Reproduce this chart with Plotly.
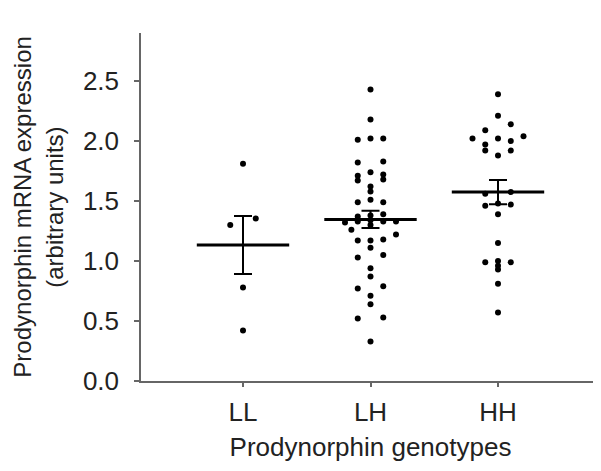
import numpy as np
import plotly.graph_objects as go

genotypes = ["LL", "LH", "HH"]

# expression values per genotype
ll_values = [1.81, 1.355, 1.30, 0.78, 0.42]
lh_values = [2.43, 2.18, 2.01, 2.02, 2.02, 1.82, 1.83, 1.74, 1.71, 1.67, 1.72, 1.68,
             1.62, 1.58, 1.49, 1.51, 1.49, 1.32, 1.37, 1.33, 1.38, 1.34, 1.30, 1.39,
             1.33, 1.33, 1.26, 1.22, 1.17, 1.17, 1.18, 1.11, 1.03, 1.05, 0.94, 0.87,
             0.77, 0.79, 0.71, 0.64, 0.52, 0.53, 0.33]
hh_values = [2.39, 2.21, 2.14, 2.09, 2.02, 2.02, 2.04, 2.00, 1.97, 1.92, 1.92, 1.88,
             1.56, 1.575, 1.46, 1.48, 1.47, 1.39, 1.15, 0.99, 1.00, 0.96, 0.93, 0.99,
             0.81, 0.57]

# horizontal spread of the dots (in steps of 0.1 category), as in the picture
ll_jitter = [0, 1, -1, 0, 0]
lh_jitter = [0, 0, -1, 0, 1, -1, 1, 0, -1, -1, 1, 1,
             0, 0, -1, 0, 1, -2, -1, -1, 0, 0, 0, 1,
             1, 2, -1.5, 2, -1, 0, 1, 0, -1, 1, 0, 0,
             -1, 1, 0, 0, -1, 1, 0]
hh_jitter = [0, 0, 1, -1, -2, 0, 2, 1, -1, -1, 1, 0,
             -1, 1, -1, 0, 1, 0, 0, -1, 0, 0, 0, 1,
             0, 0]

groups = [(ll_values, ll_jitter), (lh_values, lh_jitter), (hh_values, hh_jitter)]

TEXT = "#222222"
AXIS = "#666666"
FONT = "Arial, Liberation Sans, sans-serif"
FS = 26

fig = go.Figure()

xs, ys = [], []
for i, (vals, jit) in enumerate(groups):
    xs += [i + 0.1 * j for j in jit]
    ys += vals
fig.add_trace(go.Scatter(
    x=xs, y=ys, mode="markers",
    marker=dict(color="black", size=6),
    showlegend=False, hoverinfo="y",
))

# mean +/- SEM bars computed from the dots
means = [float(np.mean(v)) for v, _ in groups]
sems = [float(np.std(v, ddof=1) / np.sqrt(len(v))) for v, _ in groups]
fig.add_trace(go.Scatter(
    x=list(range(len(genotypes))), y=means, mode="markers",
    marker=dict(symbol="line-ew", size=66, color="black",
                line=dict(color="black", width=3)),
    error_y=dict(type="data", array=sems, visible=True,
                 color="black", thickness=2, width=9),
    showlegend=False, hoverinfo="y",
))

fig.update_layout(
    width=601, height=471,
    margin=dict(l=133, r=9, t=25, b=98),
    paper_bgcolor="white", plot_bgcolor="white",
    font=dict(family=FONT, size=FS, color=TEXT),
    xaxis=dict(
        range=[-0.8, 2.8],
        tickvals=list(range(len(genotypes))), ticktext=genotypes,
        showline=True, linecolor=AXIS, linewidth=1.5,
        ticks="outside", ticklen=4, tickcolor=AXIS, tickwidth=1.5,
        showgrid=False, zeroline=False,
        ticklabelstandoff=3,
        title=dict(text="Prodynorphin genotypes", standoff=12,
                   font=dict(size=FS, color=TEXT)),
    ),
    yaxis=dict(
        range=[0, 2.9],
        tickvals=[0, 0.5, 1.0, 1.5, 2.0, 2.5], tickformat=".1f",
        showline=True, linecolor=AXIS, linewidth=1.5,
        ticks="outside", ticklen=5, tickcolor=AXIS, tickwidth=1.5,
        showgrid=False, zeroline=False,
        ticklabelstandoff=10,
    ),
    annotations=[
        dict(text="Prodynorphin mRNA expression", textangle=-90,
             xref="paper", yref="paper", x=-0.26, y=0.5,
             xanchor="center", yanchor="middle", showarrow=False,
             borderpad=0, font=dict(size=24, color=TEXT)),
        dict(text="(arbitrary units)", textangle=-90,
             xref="paper", yref="paper", x=-0.19, y=0.5,
             xanchor="center", yanchor="middle", showarrow=False,
             borderpad=0, font=dict(size=24, color=TEXT)),
    ],
)

fig.write_html("out.html")
